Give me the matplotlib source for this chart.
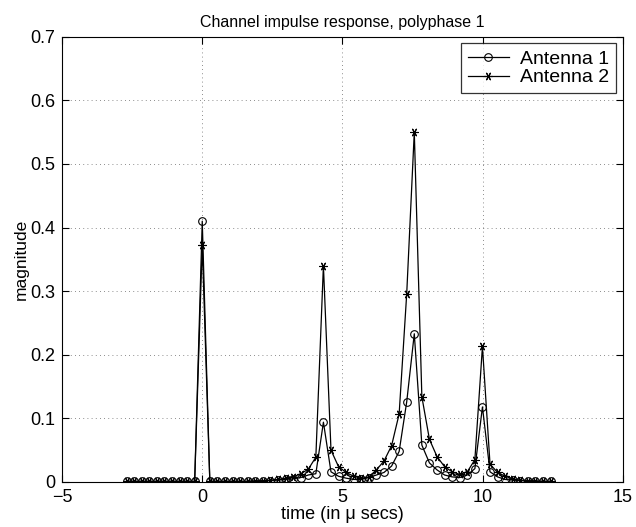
#!/usr/bin/env python3
"""Channel impulse response for two antennas (polyphase 1)."""

import matplotlib.pyplot as plt
import numpy as np

plt.rcParams["font.family"] = ["Liberation Sans", "DejaVu Sans"]

# sample grid (in micro seconds)
SAMPLE_PERIOD = 0.27
sample_index = np.arange(-10, 47)

antenna1 = [
    0.001, 0.001, 0.001, 0.001, 0.001, 0.001, 0.001, 0.001, 0.001, 0.001,  # -10..-1
    0.410,                                                                 # 0
    0.001, 0.001, 0.001, 0.001, 0.001, 0.001, 0.001, 0.002, 0.002, 0.003,  # 1..10
    0.004, 0.005, 0.007, 0.011, 0.013, 0.094, 0.016, 0.009, 0.006, 0.004,  # 11..20
    0.004, 0.007, 0.011, 0.015, 0.025, 0.048, 0.126, 0.233, 0.058, 0.030,  # 21..30
    0.019, 0.011, 0.008, 0.007, 0.011, 0.021, 0.118, 0.016, 0.008, 0.004,  # 31..40
    0.003, 0.002, 0.002, 0.001, 0.001, 0.001,                              # 41..46
]
antenna2 = [
    0.001, 0.001, 0.001, 0.001, 0.001, 0.001, 0.001, 0.001, 0.001, 0.001,
    0.373,
    0.001, 0.001, 0.001, 0.001, 0.001, 0.001, 0.002, 0.002, 0.003, 0.004,
    0.006, 0.008, 0.013, 0.020, 0.039, 0.340, 0.050, 0.024, 0.015, 0.009,
    0.006, 0.008, 0.019, 0.033, 0.057, 0.107, 0.296, 0.550, 0.134, 0.067,
    0.040, 0.024, 0.016, 0.012, 0.016, 0.035, 0.213, 0.028, 0.015, 0.009,
    0.005, 0.003, 0.002, 0.002, 0.001, 0.001,
]

t = sample_index * SAMPLE_PERIOD

fig = plt.figure(figsize=(6.36, 5.27), dpi=100)
ax = fig.add_axes([0.0975, 0.0854, 0.882, 0.845])

ax.plot(t, antenna1, color="black", linewidth=0.9, marker="o", markersize=5.5,
        markerfacecolor="none", markeredgewidth=0.8, label="Antenna 1")
ax.plot(t, antenna2, color="black", linewidth=0.9, marker=(6, 2, 90), markersize=6,
        markeredgewidth=0.8, label="Antenna 2")

ax.set_xlim(-5, 15)
ax.set_ylim(0, 0.7)
ax.set_xticks([-5, 0, 5, 10, 15])
ax.set_yticks(np.arange(0, 0.71, 0.1))
ax.set_yticklabels(["0", "0.1", "0.2", "0.3", "0.4", "0.5", "0.6", "0.7"])
ax.tick_params(direction="in", top=True, right=True, labelsize=13, length=5, width=0.8)
ax.tick_params(axis="x", pad=5)
ax.tick_params(axis="y", pad=5)
for s in ax.spines.values():
    s.set_linewidth(0.8)
ax.grid(True, linestyle=(0, (1, 4)), color="black", linewidth=0.6, alpha=0.6)

ax.set_title("Channel impulse response, polyphase 1", fontsize=11.5, pad=7)
ax.set_xlabel("time (in \u03bc secs)", fontsize=13, labelpad=0)
ax.set_ylabel("magnitude", fontsize=12.5, labelpad=1)

leg = ax.legend(loc="upper right", fontsize=14, frameon=True, fancybox=False,
                borderaxespad=0.35, handlelength=2.1, handletextpad=0.6,
                borderpad=0.35, labelspacing=0.05)
leg.get_frame().set_edgecolor("black")
leg.get_frame().set_linewidth(0.9)

fig.savefig("out.png", dpi=100)
